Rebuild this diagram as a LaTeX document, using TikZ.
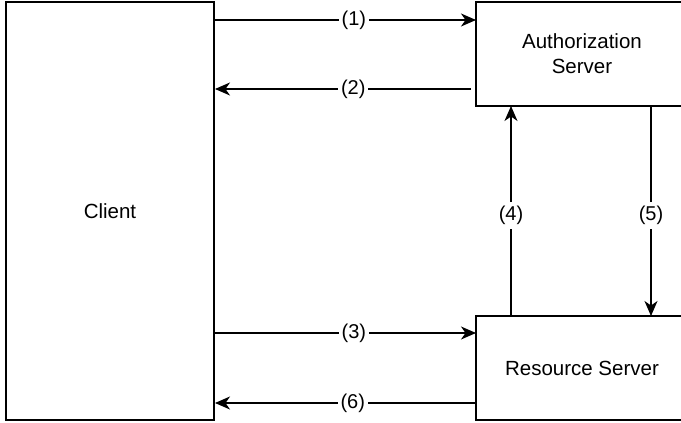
\documentclass[tikz,border=0pt]{standalone}
\usepackage{fontspec}
\setmainfont{Liberation Sans}
\usetikzlibrary{calc,arrows.meta}
\begin{document}
\begin{tikzpicture}[x=1pt,y=-1pt,
  box/.style={draw,line width=1.3pt,fill=white,outer sep=0pt,inner sep=0pt,
    align=center,font=\fontsize{20.5}{25}\selectfont},
  flow/.style={line width=1.3pt,-{Stealth[length=15pt,width=13pt,inset=4.5pt]}},
  lbl/.style={fill=white,inner xsep=3pt,inner ysep=1pt,font=\fontsize{20}{24}\selectfont}]
  \useasboundingbox (0,0) rectangle (681,423);
  \begin{scope}
    \clip (0,0) rectangle (681,423);
    % the three parties
    \node[box,minimum width=208pt,minimum height=418pt] (client) at (110,211) {Client};
    \node[box,minimum width=212pt,minimum height=104pt] (auth) at (582,54) {Authorization\\Server};
    \node[box,minimum width=212pt,minimum height=104pt] (res) at (582,368) {Resource Server};
  \end{scope}
  % client <-> authorization server
  \draw[flow] ($(client.north east)+(0,18)$) -- node[lbl,pos=0.534] {(1)} ($(auth.north west)+(0,18)$);
  \draw[flow] ($(auth.north west)+(-5,87)$) -- node[lbl,pos=0.46] {(2)} ($(client.north east)+(1,87)$);
  % client <-> resource server
  \draw[flow] ($(client.east |- res.north)+(0,17)$) -- node[lbl,pos=0.534] {(3)} ($(res.north west)+(0,17)$);
  \draw[flow] ($(res.south west)+(-1,-17)$) -- node[lbl,pos=0.47] {(6)} ($(client.east |- res.south)+(1,-17)$);
  % resource server <-> authorization server
  \draw[flow] ($(res.north west)+(35,0)$) -- node[lbl,pos=0.48,inner xsep=1pt,inner ysep=4pt] {(4)} ($(auth.south west)+(35,0)$);
  \draw[flow] ($(auth.south west)+(175,0)$) -- node[lbl,pos=0.52,inner xsep=1pt,inner ysep=4pt] {(5)} ($(res.north west)+(175,0)$);
\end{tikzpicture}
\end{document}
